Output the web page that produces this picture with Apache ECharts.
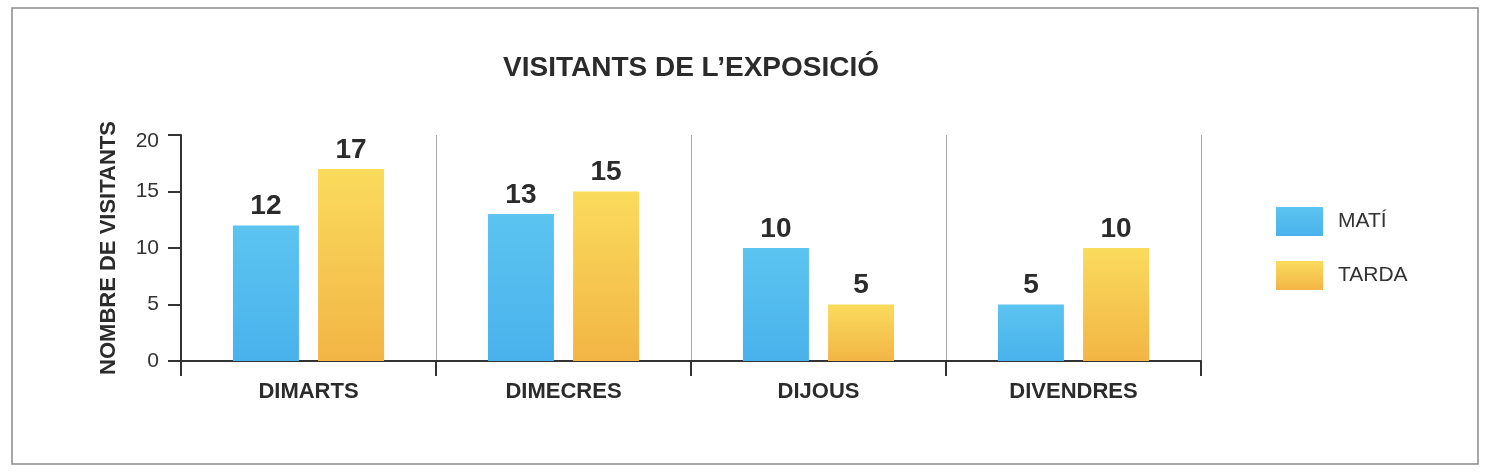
<!DOCTYPE html>
<html>
<head>
<meta charset="utf-8">
<script src="https://cdn.jsdelivr.net/npm/echarts@6/dist/echarts.min.js"></script>
<style>
  html, body { margin: 0; padding: 0; background: #fff; }
  #chart { width: 1490px; height: 476px; }
</style>
</head>
<body>
<div id="chart"></div>
<script>
var dies = ['DIMARTS', 'DIMECRES', 'DIJOUS', 'DIVENDRES'];
var mati = [12, 13, 10, 5];
var tarda = [17, 15, 5, 10];
var yTicks = { min: 0, max: 20, interval: 5 };

var font = '"Liberation Sans", Arial, Helvetica, sans-serif';

function grad(top, bottom) { // degradat vertical de les barres
  return new echarts.graphic.LinearGradient(0, 0, 0, 1, [
    { offset: 0, color: top },
    { offset: 1, color: bottom }
  ]);
}

var valueLabel = {
  show: true,
  position: 'top',
  distance: 5,
  fontFamily: font,
  fontSize: 28,
  fontWeight: 'bold',
  color: '#2b2b2b'
};

var chart = echarts.init(document.getElementById('chart'));
chart.setOption({
  animation: false,
  textStyle: { fontFamily: font },
  graphic: [{
    type: 'rect',
    shape: { x: 12, y: 8, width: 1466, height: 456 },
    style: { fill: 'none', stroke: '#8a8a8a', lineWidth: 1.5 },
    silent: true
  }],
  title: {
    text: 'VISITANTS DE L\u2019EXPOSICIÓ',
    left: 691,
    textAlign: 'center',
    top: 54,
    padding: 0,
    textStyle: { fontFamily: font, fontSize: 28, fontWeight: 'bold', color: '#2b2b2b' }
  },
  legend: {
    orient: 'vertical',
    left: 1276,
    top: 207,
    padding: 0,
    itemWidth: 47,
    itemHeight: 29,
    itemGap: 25,
    icon: 'rect',
    textStyle: { fontFamily: font, fontSize: 21, color: '#333', padding: [0, 0, 0, 10] },
    data: ['MATÍ', 'TARDA']
  },
  grid: { left: 181, right: 289, top: 135, bottom: 115 },
  xAxis: {
    type: 'category',
    data: dies,
    boundaryGap: true,
    axisLine: { lineStyle: { color: '#333', width: 2 } },
    axisTick: { show: true, length: 15, lineStyle: { color: '#333', width: 2 } },
    splitLine: { show: true, lineStyle: { color: '#a8a8a8', width: 1 } },
    axisLabel: { margin: 20, fontFamily: font, fontSize: 22, fontWeight: 'bold', color: '#2b2b2b' }
  },
  yAxis: {
    type: 'value',
    min: yTicks.min,
    max: yTicks.max,
    interval: yTicks.interval,
    name: 'NOMBRE DE VISITANTS',
    nameLocation: 'middle',
    nameRotate: 90,
    nameGap: 61,
    nameTextStyle: { fontFamily: font, fontSize: 22, fontWeight: 'bold', color: '#2b2b2b' },
    axisLine: { show: true, lineStyle: { color: '#333', width: 2 } },
    axisTick: { show: true, length: 13, lineStyle: { color: '#333', width: 2 } },
    splitLine: { show: false },
    axisLabel: {
      margin: 22,
      fontFamily: font,
      fontSize: 21,
      color: '#333',
      formatter: function(v) { // l'etiqueta superior queda una mica més avall
        return v === yTicks.max ? '{top|' + v + '}' : '' + v;
      },
      rich: {
        top: { fontFamily: font, fontSize: 21, color: '#333', padding: [12, 0, 0, 0] }
      }
    }
  },
  series: [{
    name: 'MATÍ',
    type: 'bar',
    data: mati,
    barWidth: 66,
    barGap: '29%',
    itemStyle: { color: grad('#5cc4f0', '#49b2ec') },
    label: valueLabel
  }, {
    name: 'TARDA',
    type: 'bar',
    data: tarda,
    barWidth: 66,
    barGap: '29%',
    itemStyle: { color: grad('#fadb5c', '#f2b545') },
    label: valueLabel
  }]
});
</script>
</body>
</html>
